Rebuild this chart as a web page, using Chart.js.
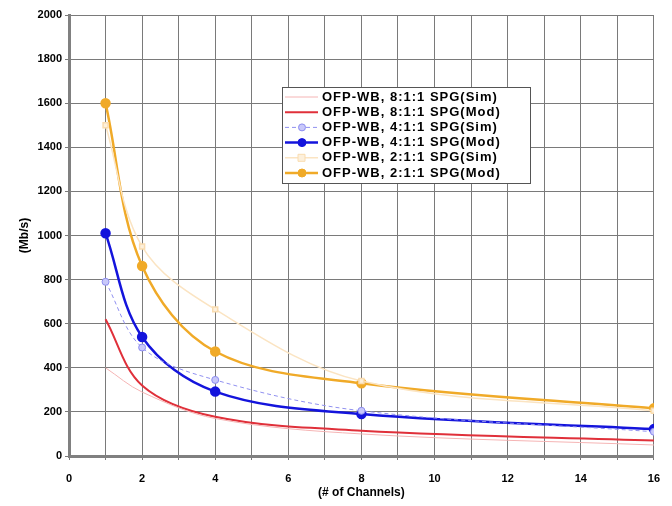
<!DOCTYPE html>
<html lang="en">
<head>
  <meta charset="UTF-8" />
  <title>OFP-WB SPG throughput</title>
  <script src="https://cdn.jsdelivr.net/npm/chart.js"></script>
  <style>
    html, body { margin: 0; padding: 0; background: white; }
    #wrap { width: 672px; height: 506px; }
  </style>
</head>
<body>
<div id="wrap"><canvas id="chart" width="672" height="506"></canvas></div>
<script>
  // channel counts on the x axis
  const channels = [1, 2, 4, 8, 16];

  // Mb/s values
  const sim811 = [400, 290, 170, 100, 50];
  const mod811 = [620, 320, 178, 115, 70];
  const sim411 = [790, 492, 345, 205, 110];
  const mod411 = [1010, 540, 292, 190, 122];
  const sim211 = [1500, 950, 665, 340, 205];
  const mod211 = [1600, 862, 474, 330, 216];

  const labels = [
    'OFP-WB, 8:1:1 SPG(Sim)',
    'OFP-WB, 8:1:1 SPG(Mod)',
    'OFP-WB, 4:1:1 SPG(Sim)',
    'OFP-WB, 4:1:1 SPG(Mod)',
    'OFP-WB, 2:1:1 SPG(Sim)',
    'OFP-WB, 2:1:1 SPG(Mod)'
  ];

  const pts = vals => vals.map((v, i) => ({ x: channels[i], y: v }));
  const font = 'Liberation Sans, Arial, sans-serif';

  // legend drawn inside the plot, like the original
  const boxLegend = {
    id: 'boxLegend',
    afterDraw(chart) {
      const ctx = chart.ctx;
      const x0 = 282, y0 = 87, w = 248, h = 96;
      ctx.save();
      ctx.fillStyle = 'white';
      ctx.fillRect(x0, y0, w, h);
      ctx.strokeStyle = '#555';
      ctx.lineWidth = 1;
      ctx.strokeRect(x0 + 0.5, y0 + 0.5, w, h);
      ctx.font = 'bold 13px ' + font;
      ctx.letterSpacing = '1px';
      ctx.textBaseline = 'middle';
      chart.data.datasets.forEach((ds, i) => {
        const y = y0 + 10 + i * 15.2;
        ctx.strokeStyle = ds.borderColor;
        ctx.lineWidth = ds.borderWidth;
        ctx.setLineDash(ds.borderDash || []);
        ctx.beginPath();
        ctx.moveTo(x0 + 3, y);
        ctx.lineTo(x0 + 36, y);
        ctx.stroke();
        ctx.setLineDash([]);
        if (ds.pointRadius > 0) {
          ctx.fillStyle = ds.pointBackgroundColor;
          ctx.strokeStyle = ds.pointBorderColor;
          ctx.lineWidth = 1;
          ctx.beginPath();
          if (ds.pointStyle === 'rect') {
            ctx.rect(x0 + 16, y - 3.5, 7, 7);
          } else {
            ctx.arc(x0 + 20, y, ds.pointRadius, 0, Math.PI * 2);
          }
          ctx.fill();
          ctx.stroke();
        }
        ctx.fillStyle = 'black';
        ctx.fillText(ds.label, x0 + 40, y);
      });
      ctx.restore();
    }
  };

  new Chart(document.getElementById('chart'), {
    type: 'line',
    data: {
      datasets: [
        { label: labels[0], data: pts(sim811), borderColor: '#f5b4b4', borderWidth: 1,
          pointRadius: 0 },
        { label: labels[1], data: pts(mod811), borderColor: '#e0303a', borderWidth: 2,
          pointRadius: 0 },
        { label: labels[2], data: pts(sim411), borderColor: '#9090f0', borderWidth: 1, borderDash: [4, 3],
          pointRadius: 3.5, pointStyle: 'circle', pointBackgroundColor: '#c8c8fa', pointBorderColor: '#8c8cf0' },
        { label: labels[3], data: pts(mod411), borderColor: '#1414dc', borderWidth: 2.5,
          pointRadius: 4, pointStyle: 'circle', pointBackgroundColor: '#1414dc', pointBorderColor: '#1414dc' },
        { label: labels[4], data: pts(sim211), borderColor: '#fbe4c2', borderWidth: 1.5,
          pointRadius: 3.5, pointStyle: 'rect', pointBackgroundColor: '#fdf0dc', pointBorderColor: '#f9dcb0' },
        { label: labels[5], data: pts(mod211), borderColor: '#f0aa28', borderWidth: 2.5,
          pointRadius: 4, pointStyle: 'circle', pointBackgroundColor: '#f0aa28', pointBorderColor: '#f0aa28' }
      ]
    },
    options: {
      responsive: false,
      animation: false,
      elements: { line: { tension: 0.35 } },
      layout: { padding: { top: 15, right: 18, left: 17, bottom: 6 } },
      plugins: { legend: { display: false }, tooltip: { enabled: false } },
      scales: {
        x: {
          type: 'linear', min: 0, max: 16,
          ticks: {
            stepSize: 1, autoSkip: false, color: 'black', maxRotation: 0, padding: 12,
            font: { family: font, size: 11, weight: 'bold' },
            callback: v => (v % 2 === 0 ? String(v) : '')
          },
          grid: { color: '#7a7a7a', lineWidth: 1, drawTicks: true, tickLength: 4 },
          border: { color: '#808080', width: 3 },
          title: { display: true, text: '(# of Channels)', color: 'black',
                   font: { family: font, size: 12, weight: 'bold' }, padding: { top: 0, bottom: 0 } },
          afterFit: s => { s.height = 44; }
        },
        y: {
          min: 0, max: 2000,
          ticks: { stepSize: 200, color: 'black', font: { family: font, size: 11, weight: 'bold' },
                   callback: v => String(v) },
          grid: { color: '#7a7a7a', lineWidth: 1, tickLength: 4 },
          border: { color: '#808080', width: 3 },
          title: { display: true, text: '(Mb/s)', color: 'black',
                   font: { family: font, size: 12, weight: 'bold' }, padding: { top: 0, bottom: 2 } },
          afterFit: s => { s.width = 52; }
        }
      }
    },
    plugins: [boxLegend]
  });
</script>
</body>
</html>
